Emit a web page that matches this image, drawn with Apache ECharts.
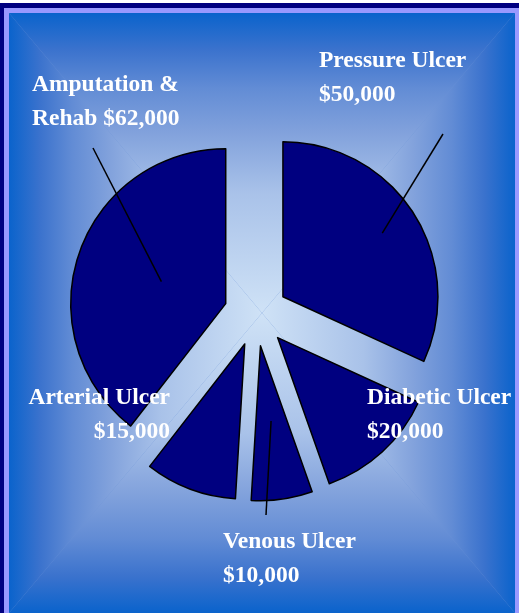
<!DOCTYPE html>
<html>
<head>
<meta charset="utf-8">
<script src="https://cdn.jsdelivr.net/npm/echarts@6/dist/echarts.min.js"></script>
<style>
  html, body { margin: 0; padding: 0; background: #fff; }
  #chartDom { width: 519px; height: 613px; }
</style>
</head>
<body>
<div id="chartDom"></div>
<script>
// 数据
const categories = ['Pressure Ulcer', 'Diabetic Ulcer', 'Venous Ulcer', 'Arterial Ulcer', 'Amputation &\nRehab'];
const costs = [50000, 20000, 10000, 15000, 62000];

// label placement (pixels)
const labelPos = [
  { x: 319, y: 44, align: 'left' },
  { x: 367, y: 381, align: 'left' },
  { x: 223, y: 525, align: 'left' },
  { x: 170, y: 381, align: 'right' },
  { x: 32, y: 68, align: 'left' }
];
// pointer lines: outer end + how deep into the slice they start
const pointers = [
  { index: 0, x: 443, y: 133, depth: 150 },
  { index: 2, x: 266, y: 516, depth: 108 },
  { index: 4, x: 93, y: 147, depth: 100 }
];

const pieCenter = [256, 314];
const gradCenter = [262, 313];

function money(v) {
  return '$' + v.toLocaleString('en-US');
}

let chart = echarts.init(document.getElementById('chartDom'), null, { renderer: 'canvas' });

// background: rectangular "from center" gradient made of 4 triangles
const stops = [
  { offset: 0, color: '#cfe2f6' },
  { offset: 0.4, color: '#a9c2e9' },
  { offset: 0.6, color: '#82a2dc' },
  { offset: 0.75, color: '#628cd5' },
  { offset: 0.88, color: '#3a72cd' },
  { offset: 1, color: '#0a63cc' }
];
const L = 9, T = 13, R = 515, B = 613;
const cx = gradCenter[0], cy = gradCenter[1];
function tri(points, x, y, x2, y2) {
  return {
    type: 'polygon',
    z: -5,
    silent: true,
    shape: { points: points },
    style: {
      fill: new echarts.graphic.LinearGradient(x, y, x2, y2, stops),
      stroke: null
    }
  };
}

// transparent pie used only to carry labels / pointer lines
function overlayPie(radius, z, extra) {
  return Object.assign({
    type: 'pie',
    z: z,
    silent: true,
    center: pieCenter,
    radius: radius,
    startAngle: 90,
    clockwise: true,
    avoidLabelOverlap: false,
    itemStyle: { color: 'rgba(0,0,0,0)', borderWidth: 0 },
    emphasis: { disabled: true }
  }, extra);
}

// one overlay per pointer line
const pointerSeries = pointers.map(function (pt) {
  return overlayPie(pt.depth, 4, {
    label: {
      position: 'outside',
      fontSize: 2,
      color: 'rgba(0,0,0,0)',
      formatter: function () { return ' '; }
    },
    labelLine: {
      length: 0,
      length2: 0,
      lineStyle: { color: '#000', width: 1.5 }
    },
    labelLayout: function () {
      return { x: pt.x, y: pt.y, align: 'center', verticalAlign: 'middle' };
    },
    data: categories.map((name, i) => ({
      name: name,
      value: costs[i],
      label: { show: i === pt.index },
      labelLine: { show: i === pt.index }
    }))
  });
});

chart.setOption({
  animation: false,
  graphic: [
    { type: 'rect', z: -10, silent: true, shape: { x: 0, y: 3, width: 519, height: 610 }, style: { fill: '#000080' } },
    { type: 'rect', z: -9, silent: true, shape: { x: 4, y: 8, width: 515, height: 605 }, style: { fill: '#9999ff' } },
    { type: 'rect', z: -8, silent: true, shape: { x: L, y: T, width: R - L, height: B - T }, style: { fill: '#6a92d6' } },
    tri([[L, T], [R, T], [cx, cy]], 0, 1, 0, 0),
    tri([[L, B], [R, B], [cx, cy]], 0, 0, 0, 1),
    tri([[L, T], [L, B], [cx, cy]], 1, 0, 0, 0),
    tri([[R, T], [R, B], [cx, cy]], 0, 0, 1, 0)
  ],
  series: [
    {
      // 主饼图 (exploded)
      type: 'pie',
      center: pieCenter,
      radius: 155,
      startAngle: 90,
      clockwise: true,
      selectedMode: 'multiple',
      selectedOffset: 32,
      itemStyle: {
        color: '#000080',
        borderColor: '#000',
        borderWidth: 1.5
      },
      emphasis: { disabled: true },
      label: { show: false },
      labelLine: { show: false },
      data: categories.map((name, i) => ({ name: name, value: costs[i], selected: true }))
    }
  ].concat(pointerSeries).concat([
    // text labels
    overlayPie(155, 6, {
      label: {
        show: true,
        position: 'outside',
        color: '#fff',
        fontFamily: 'Liberation Serif',
        fontWeight: 'bold',
        fontSize: 23.5,
        lineHeight: 34,
        formatter: function (p) {
          return p.name.indexOf('\n') >= 0 ? p.name + ' ' + money(p.value) : p.name + '\n' + money(p.value);
        }
      },
      labelLine: { show: false },
      labelLayout: function (params) {
        const pos = labelPos[params.dataIndex];
        return { x: pos.x, y: pos.y, align: pos.align, verticalAlign: 'top' };
      },
      data: categories.map((name, i) => ({ name: name, value: costs[i] }))
    })
  ])
});
</script>
</body>
</html>
